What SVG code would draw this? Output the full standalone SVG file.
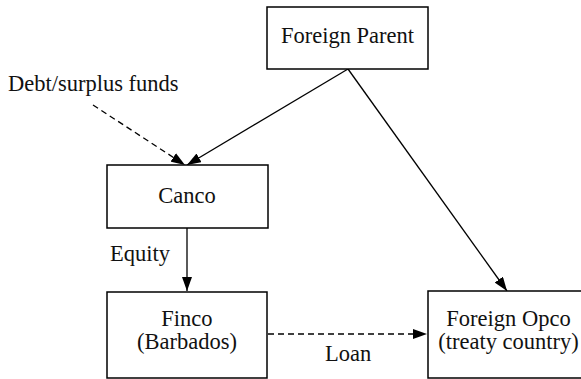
<svg xmlns="http://www.w3.org/2000/svg" width="581" height="379" viewBox="0 0 581 379">
<style>
.box{fill:#fff;stroke:#000;stroke-width:1.5}
.t{font-family:"Liberation Serif","Times New Roman",serif;font-size:22.5px;fill:#111;text-anchor:middle}
.l{font-family:"Liberation Serif","Times New Roman",serif;font-size:22.5px;fill:#111}
.c{fill:none;stroke:#000;stroke-width:1.3}
.d{stroke-dasharray:6 4}
</style>
<defs>
<marker id="ah" viewBox="0 0 14 10" refX="14" refY="5" markerWidth="14" markerHeight="10" markerUnits="userSpaceOnUse" orient="auto">
<path d="M0,0 L14,5 L0,10 z" fill="#000"/>
</marker>
</defs>
<g id="connectors">
<line class="c" x1="348" y1="69" x2="187" y2="165" marker-end="url(#ah)"/>
<line class="c d" x1="93" y1="105" x2="185" y2="165" marker-end="url(#ah)"/>
<line class="c" x1="348" y1="69" x2="507" y2="291" marker-end="url(#ah)"/>
<line class="c" x1="187" y1="228" x2="187" y2="291" marker-end="url(#ah)"/>
<line class="c d" x1="268" y1="334" x2="427" y2="334" marker-end="url(#ah)"/>
</g>
<g id="parent">
<rect class="box" x="267" y="7" width="161" height="62"/>
<text class="t" x="347.5" y="43">Foreign Parent</text>
</g>
<g id="debt">
<text class="l" x="8" y="91">Debt/surplus funds</text>
</g>
<g id="canco">
<rect class="box" x="107" y="165" width="161" height="63"/>
<text class="t" x="187" y="203">Canco</text>
</g>
<g id="equity">
<text class="l" x="110" y="261">Equity</text>
</g>
<g id="finco">
<rect class="box" x="107" y="292" width="160" height="86"/>
<text class="t" x="187" y="326">Finco</text>
<text class="t" x="187" y="349">(Barbados)</text>
</g>
<g id="opco">
<rect class="box" x="428" y="291" width="160" height="87"/>
<text class="t" x="508.5" y="326">Foreign Opco</text>
<text class="t" x="508.5" y="349">(treaty country)</text>
</g>
<g id="loan">
<text class="l" x="325" y="361">Loan</text>
</g>
</svg>
